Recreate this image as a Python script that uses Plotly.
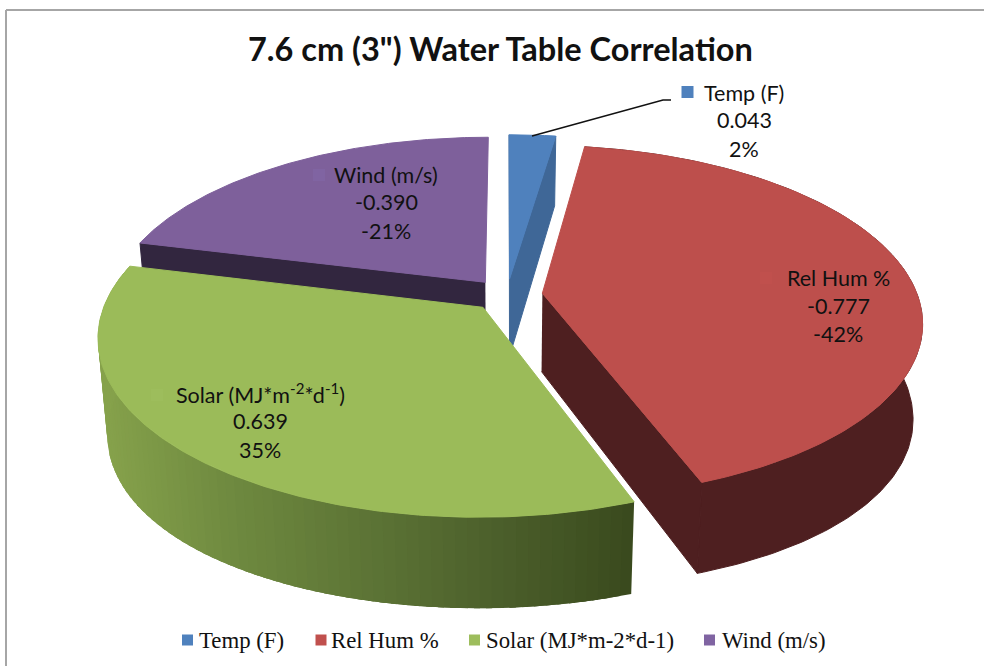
import numpy as np
import plotly.graph_objects as go

# ---- data ----
categories = ["Temp (F)", "Rel Hum %", "Solar (MJ*m-2*d-1)", "Wind (m/s)"]
label_names = ["Temp (F)", "Rel Hum %", "Solar (MJ*m<sup>-2</sup>*d<sup>-1</sup>)", "Wind (m/s)"]
correlations = [0.043, -0.777, 0.639, -0.390]
title_text = '7.6 cm (3") Water Table Correlation'

# ---- style ----
TOP = ["#4f81bd", "#bd4f4c", "#9bbb59", "#7e609b"]
KEY = ["#4f81bd", "#c0504d", "#9dbd5c", "#8064a2"]
WALL = ["#3f6797", "#4e1f20", "#3b4a1e", "#32263f"]
FONT = "Lato, Carlito, Calibri, sans-serif"
SERIF = "Liberation Serif, serif"

# ---- projection of the tilted pie on the page (page pixels) ----
CX, CY, RX, RY, P, EXPLODE = 507, 295, 375, 172, 0.16, 0.095

mag = np.abs(correlations)
frac = mag / mag.sum()
edges = np.concatenate([[0], np.cumsum(frac)]) * 2 * np.pi


def project(theta, mid, r=1.0):
    X = r * np.sin(theta) + EXPLODE * np.sin(mid)
    Y = -r * np.cos(theta) - EXPLODE * np.cos(mid)
    s = 1 / (1 - P * Y)
    return CX + RX * X * s, CY + RY * Y * s, s


def lower(u, v, s, theta, r=1.0):
    extra = 16 * (r * np.sin(theta)) ** 2
    return CX + (u - CX) * 0.977, v + 70 + 61 * (s - 0.862) + extra


def poly(fig, xs, ys, color, width=1):
    fig.add_trace(go.Scatter(x=xs, y=ys, mode="lines", fill="toself", fillcolor=color,
                             line=dict(color=color, width=width), hoverinfo="skip", showlegend=False))


def hexmix(stops, x):
    xp = [p for p, _ in stops]
    rgb = [np.interp(x, xp, [int(c[i:i + 2], 16) for _, c in stops]) for i in (1, 3, 5)]
    return "rgb(%d,%d,%d)" % tuple(rgb)


SOLAR_STOPS = [(97, "#87a34c"), (230, "#6f8a40"), (460, "#51662f"), (633, "#3a4a1e")]

fig = go.Figure()


def inner_wall(fig, theta, mid, color):
    t = np.array([theta])
    ut, vt, st = project(t, mid)
    ua, va, sa = project(t, mid, r=0.0)
    ub, vb = lower(ut, vt, st, t)
    uc, vc = lower(ua, va, sa, t, r=0.0)
    poly(fig, [ua[0], ut[0], ub[0], uc[0]], [va[0], vt[0], vb[0], vc[0]], color)


def draw_slice(fig, i):
    a, b = edges[i], edges[i + 1]
    mid = (a + b) / 2
    th = np.linspace(a, b, 161)
    u, v, s = project(th, mid)
    ua, va, _ = project(np.array([a]), mid, r=0.0)
    ub, vb = lower(u, v, s, th)
    if i == 2:  # outer wall with its left-to-right shading; segments overlap so no seams show
        for k in range(0, 160, 2):
            seg = slice(k, k + 6)
            col = hexmix(SOLAR_STOPS, float(np.mean(u[k:k + 3])))
            poly(fig, list(u[seg]) + list(ub[seg][::-1]), list(v[seg]) + list(vb[seg][::-1]), col, width=0)
    elif i == 1:
        poly(fig, list(u) + list(ub[::-1]), list(v) + list(vb[::-1]), WALL[i])
    if i == 0:
        inner_wall(fig, a, mid, WALL[i])
        inner_wall(fig, b, mid, WALL[i])
    if i == 1:
        inner_wall(fig, b, mid, WALL[i])
    if i == 3:
        inner_wall(fig, a, mid, WALL[i])
    poly(fig, [ua[0]] + list(u) + [ua[0]], [va[0]] + list(v) + [va[0]], TOP[i])


for i in (3, 0, 1, 2):
    draw_slice(fig, i)

# leader line from the Temp slice to its label
fig.add_trace(go.Scatter(x=[532, 663, 671], y=[136, 100, 100], mode="lines",
                         line=dict(color="#111111", width=1.5), hoverinfo="skip", showlegend=False))

# data-label keys
key_x = [687.5, 766, 157, 319]
key_y = [92, 278, 395, 175]
fig.add_trace(go.Scatter(x=key_x, y=key_y, mode="markers", hoverinfo="skip", showlegend=False,
                         marker=dict(symbol="square", size=12, color=KEY, line=dict(width=0))))

# bottom legend
legend_sw = [187.5, 321, 474.5, 709.5]
legend_tx = [197, 329, 484, 720]
fig.add_trace(go.Scatter(x=legend_sw, y=[640] * 4, mode="markers", hoverinfo="skip", showlegend=False,
                         marker=dict(symbol="square", size=11, color=KEY, line=dict(width=0))))

ann = [dict(x=500, y=48, text=title_text, showarrow=False, xanchor="center", yanchor="middle",
            font=dict(family=FONT, size=32.5, color="#111111", weight="bold"))]
for name, x in zip(categories, legend_tx):
    ann.append(dict(x=x, y=640, text=name, showarrow=False, xanchor="left", yanchor="middle",
                    font=dict(family=SERIF, size=22.8, color="#111111")))

label_cx = [744, 838, 260, 386]
label_cy = [[93, 120, 149], [278, 306, 334], [393, 421, 450], [175, 202, 231]]
for i in range(4):
    pct = round(100 * correlations[i] / mag.sum())
    lines = [label_names[i], "%.3f" % correlations[i], "%d%%" % pct]
    for t, y in zip(lines, label_cy[i]):
        ann.append(dict(x=label_cx[i], y=y, text=t, showarrow=False, xanchor="center", yanchor="middle",
                        font=dict(family=FONT, size=21.5, color="#111111")))

fig.update_layout(
    width=984, height=666, autosize=False, margin=dict(l=0, r=0, t=0, b=0),
    paper_bgcolor="white", plot_bgcolor="white", showlegend=False, annotations=ann,
    xaxis=dict(range=[0, 984], visible=False, fixedrange=True),
    yaxis=dict(range=[666, 0], visible=False, fixedrange=True),
    shapes=[dict(type="line", x0=6, x1=6, y0=10, y1=666, line=dict(color="#a6a6a6", width=2), layer="below"),
            dict(type="line", x0=6, x1=984, y0=10, y1=10, line=dict(color="#a6a6a6", width=2), layer="below")],
)
fig.write_html("out.html", config={"displayModeBar": False},
               post_script="document.body.style.margin='0';document.body.style.overflow='hidden';")
